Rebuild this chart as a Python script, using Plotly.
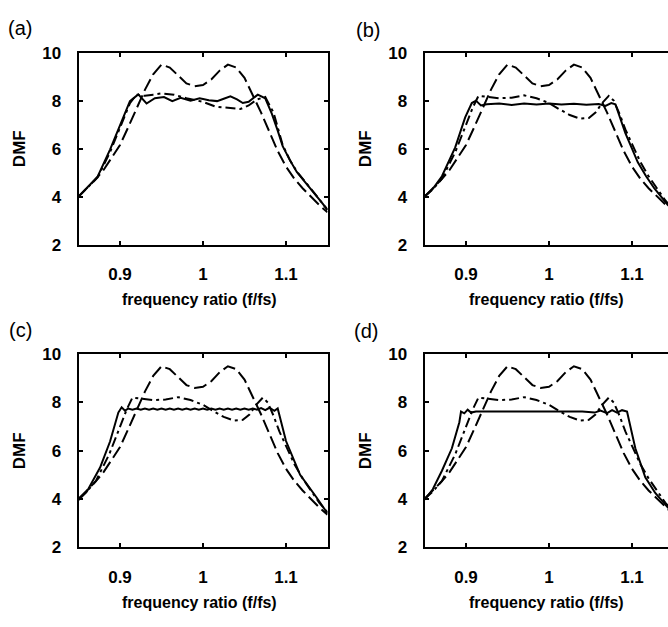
import plotly.graph_objects as go

# ---------------- data ----------------
# long-dash curve (same in all four panels)
x_ld = [0.85, 0.86, 0.87, 0.88, 0.89, 0.90, 0.91, 0.92, 0.93, 0.94, 0.95, 0.96, 0.97, 0.98, 0.99,
        1.00, 1.01, 1.02, 1.03, 1.04, 1.05, 1.06, 1.07, 1.08, 1.09, 1.10, 1.11, 1.12, 1.13, 1.14, 1.15]
y_ld = [4.0, 4.35, 4.7, 5.1, 5.6, 6.15, 6.9, 7.65, 8.45, 9.1, 9.5, 9.38, 9.05, 8.72, 8.6,
        8.65, 8.88, 9.25, 9.5, 9.38, 8.95, 8.25, 7.5, 6.7, 5.9, 5.25, 4.75, 4.35, 4.0, 3.65, 3.35]

# dash-dot curve, panel (a)
x_dd_a = [0.85, 0.86, 0.873, 0.888, 0.90, 0.912, 0.92, 0.93, 0.94, 0.95, 0.965, 0.98, 1.0, 1.015,
          1.03, 1.045, 1.055, 1.065, 1.075, 1.085, 1.096, 1.105, 1.113, 1.123, 1.133, 1.142, 1.15]
y_dd_a = [4.0, 4.33, 4.8, 5.85, 6.85, 7.9, 8.25, 8.2, 8.25, 8.3, 8.25, 8.1, 7.95, 7.75,
          7.7, 7.65, 7.8, 8.05, 8.15, 7.5, 6.15, 5.5, 5.05, 4.6, 4.2, 3.8, 3.45]

# dash-dot curve, panels (b), (c), (d)
x_dd = [0.85, 0.86, 0.871, 0.887, 0.899, 0.908, 0.915, 0.925, 0.94, 0.955, 0.97, 0.985, 1.0, 1.012,
        1.025, 1.037, 1.048, 1.056, 1.064, 1.072, 1.078, 1.085, 1.092, 1.10, 1.11, 1.12, 1.13, 1.14, 1.15]
y_dd = [4.0, 4.3, 4.75, 5.85, 6.9, 7.7, 8.2, 8.15, 8.1, 8.12, 8.22, 8.1, 7.9, 7.65,
        7.4, 7.25, 7.28, 7.5, 7.9, 8.2, 8.0, 7.45, 6.8, 6.2, 5.45, 4.85, 4.35, 3.85, 3.45]

# solid curve, panel (a)
x_s_a = [0.85, 0.86, 0.873, 0.888, 0.90, 0.912, 0.922, 0.932, 0.942, 0.953, 0.963, 0.973, 0.985,
         0.996, 1.007, 1.017, 1.025, 1.033, 1.041, 1.048, 1.055, 1.06, 1.066, 1.075, 1.083, 1.09,
         1.096, 1.105, 1.113, 1.123, 1.133, 1.142, 1.15]
y_s_a = [4.0, 4.35, 4.83, 5.96, 6.97, 7.98, 8.26, 7.88, 8.1, 8.15, 7.98, 8.12, 8.0,
         8.1, 8.02, 7.98, 8.08, 8.18, 8.05, 7.9, 7.95, 8.1, 8.25, 8.1, 7.45, 6.75,
         6.1, 5.5, 5.03, 4.6, 4.2, 3.8, 3.45]

# solid curve, panel (b)
x_s_b = [0.85, 0.86, 0.871, 0.887, 0.899, 0.907, 0.912, 0.918, 0.925, 0.94, 0.955, 0.97, 0.985,
         1.0, 1.015, 1.03, 1.045, 1.06, 1.068, 1.075, 1.08, 1.092, 1.10, 1.107, 1.117, 1.127, 1.143, 1.15]
y_s_b = [4.0, 4.32, 4.85, 6.05, 7.3, 7.9, 8.0, 7.8, 7.85, 7.88, 7.82, 7.88, 7.84,
         7.88, 7.84, 7.87, 7.83, 7.86, 7.78, 7.9, 7.85, 6.65, 6.0, 5.43, 4.85, 4.34, 3.66, 3.4]

# solid curve, panel (c) (fine ripple on the plateau)
x_s_c = [0.85, 0.86, 0.876, 0.888, 0.898, 0.902, 0.906, 0.91, 0.915, 0.92, 0.925, 0.93, 0.935,
         0.94, 0.945, 0.95, 0.955, 0.96, 0.965, 0.97, 0.975, 0.98, 0.985, 0.99, 0.995, 1.0,
         1.005, 1.01, 1.015, 1.02, 1.025, 1.03, 1.035, 1.04, 1.045, 1.05, 1.055, 1.06, 1.065,
         1.07, 1.075, 1.08, 1.086, 1.09, 1.10, 1.117, 1.136, 1.15]
y_s_c = [3.95, 4.3, 5.3, 6.38, 7.58, 7.8, 7.66, 7.75, 7.7, 7.75, 7.7, 7.75, 7.7,
         7.75, 7.7, 7.75, 7.7, 7.75, 7.7, 7.75, 7.7, 7.75, 7.7, 7.75, 7.7, 7.75,
         7.7, 7.75, 7.7, 7.75, 7.7, 7.75, 7.7, 7.75, 7.7, 7.75, 7.7, 7.75, 7.7,
         7.77, 7.68, 7.78, 7.65, 7.75, 6.4, 5.0, 4.1, 3.4]

# solid curve, panel (d)
x_s_d = [0.85, 0.86, 0.871, 0.883, 0.892, 0.894, 0.898, 0.902, 0.906, 0.912, 0.93, 0.96, 1.0,
         1.04, 1.055, 1.062, 1.07, 1.076, 1.082, 1.088, 1.094, 1.104, 1.116, 1.128, 1.143, 1.15]
y_s_d = [3.97, 4.4, 5.17, 6.1, 7.18, 7.62, 7.55, 7.7, 7.58, 7.62, 7.62, 7.62, 7.62,
         7.62, 7.58, 7.66, 7.56, 7.68, 7.58, 7.68, 7.62, 6.1, 4.9, 4.25, 3.65, 3.45]

panel_labels = ["(a)", "(b)", "(c)", "(d)"]
x_tick_vals = [0.9, 1.0, 1.1]
x_tick_text = ["0.9", "1", "1.1"]
y_tick_vals = [2, 4, 6, 8, 10]
y_tick_text = ["2", "4", "6", "8", "10"]
x_title = "frequency ratio (f/fs)"
y_title = "DMF"

# ---------------- layout geometry ----------------
W, H = 668, 627
PX_PER_UNIT = 830.0
FONT = "Liberation Sans, Arial, sans-serif"

def px_x(p):
    return p / W

def px_y(p):
    return (H - p) / H

panels = [
    dict(left=78.5, top=45, bottom=243, ddx=x_dd_a, ddy=y_dd_a, sx=x_s_a, sy=y_s_a, lab=(20, 20)),
    dict(left=424.5, top=45, bottom=243, ddx=x_dd, ddy=y_dd, sx=x_s_b, sy=y_s_b, lab=(368, 22)),
    dict(left=78.5, top=356, bottom=555, ddx=x_dd, ddy=y_dd, sx=x_s_c, sy=y_s_c, lab=(20, 331)),
    dict(left=424.5, top=356, bottom=555, ddx=x_dd, ddy=y_dd, sx=x_s_d, sy=y_s_d, lab=(366, 332)),
]

fig = go.Figure()
tickfont = dict(family=FONT, size=17, color="black", weight="bold")
annotations = []

for i, p in enumerate(panels):
    n = "" if i == 0 else str(i + 1)
    xa, ya = "x" + n, "y" + n
    right_px = min(p["left"] + 0.3 * PX_PER_UNIT, W)
    xmax = 0.85 + (right_px - p["left"]) / PX_PER_UNIT
    is_right = i in (1, 3)

    fig.add_trace(go.Scatter(x=x_ld, y=y_ld, mode="lines", xaxis=xa, yaxis=ya, showlegend=False,
                             line=dict(color="black", width=2, dash="13px,5px")))
    fig.add_trace(go.Scatter(x=p["ddx"], y=p["ddy"], mode="lines", xaxis=xa, yaxis=ya, showlegend=False,
                             line=dict(color="black", width=2, dash="10px,4px,3px,4px")))
    fig.add_trace(go.Scatter(x=p["sx"], y=p["sy"], mode="lines", xaxis=xa, yaxis=ya, showlegend=False,
                             line=dict(color="black", width=2)))

    fig.layout["xaxis" + n] = dict(
        domain=[px_x(p["left"]), px_x(right_px)], range=[0.85, xmax], anchor=ya,
        showgrid=False, zeroline=False, showline=True, linecolor="black", linewidth=2,
        mirror="ticks", ticks="inside", ticklen=4, tickwidth=1.5, tickcolor="black",
        tickvals=x_tick_vals, ticktext=x_tick_text, tickfont=tickfont, ticklabelstandoff=13,
    )
    fig.layout["yaxis" + n] = dict(
        domain=[px_y(p["bottom"]), px_y(p["top"])], range=[2, 10], anchor=xa,
        showgrid=False, zeroline=False, showline=True, linecolor="black", linewidth=2,
        mirror=False if is_right else "ticks", ticks="inside", ticklen=4, tickwidth=1.5,
        tickcolor="black", tickvals=y_tick_vals, ticktext=y_tick_text, tickfont=tickfont,
        ticklabelstandoff=12,
    )

    cx = p["left"] + 0.15 * PX_PER_UNIT - 3
    annotations.append(dict(text=x_title, x=px_x(cx), y=px_y(p["bottom"] + 57), xref="paper", yref="paper",
                            xanchor="center", yanchor="middle", showarrow=False,
                            font=dict(family=FONT, size=16, color="black", weight="bold")))
    annotations.append(dict(text=y_title, x=px_x(p["left"] - 59), y=px_y((p["top"] + p["bottom"]) / 2),
                            xref="paper", yref="paper", xanchor="center", yanchor="middle",
                            showarrow=False, textangle=-90,
                            font=dict(family=FONT, size=17, color="black", weight="bold")))
    annotations.append(dict(text=panel_labels[i], x=px_x(p["lab"][0]), y=px_y(p["lab"][1]),
                            xref="paper", yref="paper", xanchor="center", yanchor="middle",
                            showarrow=False, font=dict(family=FONT, size=20, color="black")))

fig.update_layout(
    width=W, height=H, margin=dict(l=0, r=0, t=0, b=0),
    paper_bgcolor="white", plot_bgcolor="white", annotations=annotations, showlegend=False,
)

fig.write_html("out.html")
